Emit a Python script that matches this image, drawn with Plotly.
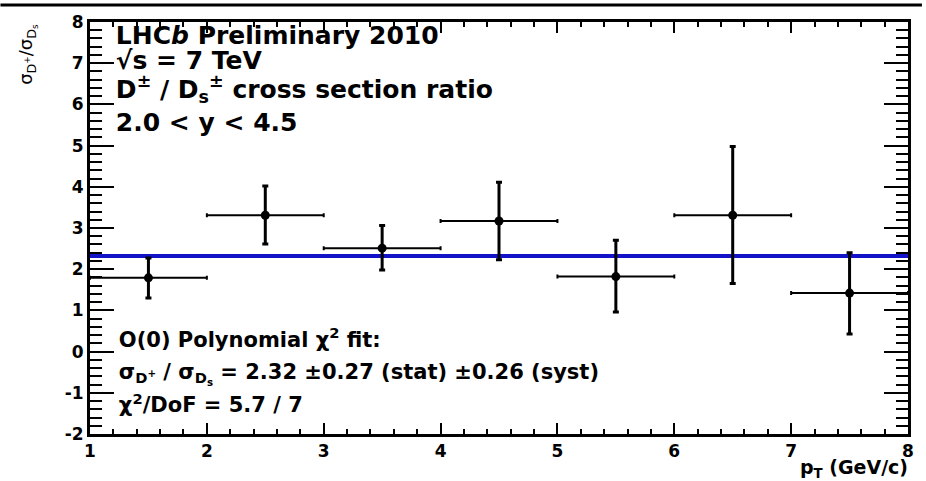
import plotly.graph_objects as go

# ---- data ----
pt_centers = [1.5, 2.5, 3.5, 4.5, 5.5, 6.5, 7.5]
pt_halfwidth = [0.5, 0.5, 0.5, 0.5, 0.5, 0.5, 0.5]
ratio = [1.79, 3.31, 2.51, 3.17, 1.82, 3.31, 1.42]
err_plus = [0.48, 0.71, 0.55, 0.94, 0.88, 1.67, 0.98]
err_minus = [0.49, 0.70, 0.53, 0.94, 0.86, 1.66, 0.99]
fit_value = 2.32
x_range = [1, 8]
y_range = [-2, 8]
x_ticks = [1, 2, 3, 4, 5, 6, 7, 8]
y_ticks = [-2, -1, 0, 1, 2, 3, 4, 5, 6, 7, 8]
x_ticktext = ["<b>%d</b>" % v for v in x_ticks]
y_ticktext = ["<b>%d</b>" % v for v in y_ticks]

FONT = "DejaVu Sans, Liberation Sans, Arial, sans-serif"

L, R, T, B = 90, 14, 20, 47
W, H = 926, 481
PW, PH = W - L - R, H - T - B


def px(xp):
    return (xp - L) / PW


def py(yp):
    return 1 - (yp - T) / PH


def dx(xp):
    return x_range[0] + (xp - L) / PW * (x_range[1] - x_range[0])


def dy(yp):
    return y_range[1] - (yp - T) / PH * (y_range[1] - y_range[0])


fig = go.Figure()

fig.add_trace(go.Scatter(
    x=x_range, y=[fit_value, fit_value], mode="lines",
    line=dict(color="#1212c8", width=4), showlegend=False, hoverinfo="skip"))

fig.add_trace(go.Scatter(
    x=pt_centers, y=ratio, mode="markers",
    marker=dict(color="black", size=9, symbol="circle"),
    error_x=dict(type="data", array=pt_halfwidth, symmetric=True,
                 color="black", thickness=2, width=2),
    error_y=dict(type="data", array=err_plus, arrayminus=err_minus,
                 symmetric=False, color="black", thickness=3, width=3),
    showlegend=False))

# labels drawn as left-anchored text
lines_top = [
    ("<b>LHC<i>b</i> Preliminary 2010</b>", 36),
    ("<b>√s = 7 TeV</b>", 61),
    ("<b>D<sup>±</sup> / D<sub>s</sub><sup>±</sup> cross section ratio</b>", 90),
    ("<b>2.0 &lt; y &lt; 4.5</b>", 123),
]
lines_bot = [
    ("<b>O(0) Polynomial χ<sup>2</sup> fit:</b>", 341),
    ("<b>σ<sub>D<sup>+</sup></sub> / σ<sub>D<sub>s</sub></sub> = 2.32 ±0.27 (stat) ±0.26 (syst)</b>", 373),
    ("<b>χ<sup>2</sup>/DoF = 5.7 / 7</b>", 407),
]
fig.add_trace(go.Scatter(
    x=[dx(116)] * len(lines_top), y=[dy(yc) for _, yc in lines_top],
    text=[t for t, _ in lines_top], mode="text", textposition="middle right",
    textfont=dict(family=FONT, size=25, color="black"),
    showlegend=False, hoverinfo="skip", cliponaxis=False))
fig.add_trace(go.Scatter(
    x=[dx(119)] * len(lines_bot), y=[dy(yc) for _, yc in lines_bot],
    text=[t for t, _ in lines_bot], mode="text", textposition="middle right",
    textfont=dict(family=FONT, size=21, color="black"),
    showlegend=False, hoverinfo="skip", cliponaxis=False))

axis_common = dict(
    showline=True, linewidth=3, linecolor="black", mirror="ticks",
    ticks="inside", tickcolor="black", tickwidth=1.5,
    showgrid=False, zeroline=False,
    tickfont=dict(family=FONT, size=17, color="black"),
)

fig.update_xaxes(range=x_range, tickvals=x_ticks, ticktext=x_ticktext, ticklen=11,
                 minor=dict(dtick=0.2, ticklen=5, ticks="inside",
                            tickcolor="black", tickwidth=1.5, showgrid=False),
                 **axis_common)
fig.update_yaxes(range=y_range, tickvals=y_ticks, ticktext=y_ticktext, ticklen=24,
                 minor=dict(dtick=0.2, ticklen=12, ticks="inside",
                            tickcolor="black", tickwidth=1.5, showgrid=False),
                 **axis_common)

ann = []
ann.append(dict(text="σ<sub>D<sup>+</sup></sub>/σ<sub>D<sub>s</sub></sub>",
                x=px(27), y=1, xref="paper", yref="paper", textangle=-90,
                xanchor="center", yanchor="top", showarrow=False,
                font=dict(family=FONT, size=18, color="black")))
ann.append(dict(text="<b>p<sub>T</sub> (GeV/c)</b>", x=px(914), y=py(469),
                xref="paper", yref="paper", xanchor="right", yanchor="middle",
                showarrow=False, font=dict(family=FONT, size=19, color="black")))

fig.update_layout(
    width=W, height=H, margin=dict(l=L, r=R, t=T, b=B),
    plot_bgcolor="white", paper_bgcolor="white",
    annotations=ann,
    shapes=[dict(type="line", xref="paper", yref="paper",
                 x0=px(0), x1=px(W), y0=py(3), y1=py(3),
                 line=dict(color="black", width=3))],
)

fig.write_html("out.html")
